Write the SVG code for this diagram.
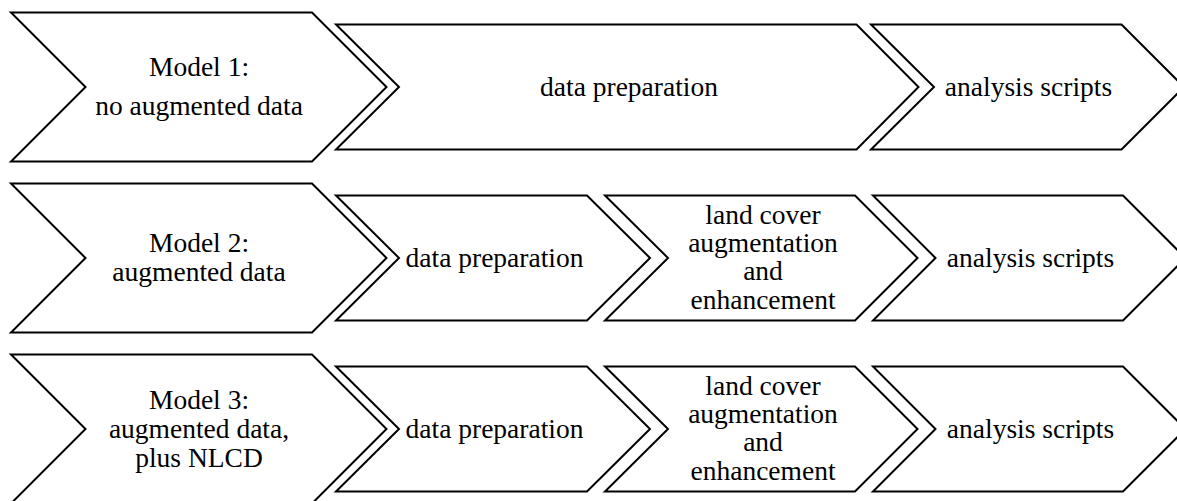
<svg xmlns="http://www.w3.org/2000/svg" width="1177" height="501" viewBox="0 0 1177 501">
<style>
.ch{fill:#fff;stroke:#000;stroke-width:2;stroke-linejoin:miter}
.t{font-family:"Liberation Serif","Times New Roman",serif;font-size:27.5px;fill:#000;text-anchor:middle}
</style>
<rect width="1177" height="501" fill="#fff"/>
<g id="connectors"/>
<!-- Row 1 -->
<g id="model1">
<polygon class="ch" points="11,12.5 312,12.5 386.5,87 312,161.5 11,161.5 85.5,87"/>
<text class="t" x="199" y="76">Model 1:</text>
<text class="t" x="199" y="115">no augmented data</text>
</g>
<g id="r1-dataprep">
<polygon class="ch" points="336,24.5 856.5,24.5 918.5,87 856.5,149.5 336,149.5 399,87"/>
<text class="t" x="629" y="96">data preparation</text>
</g>
<g id="r1-analysis">
<polygon class="ch" points="871,24.5 1121.5,24.5 1184,87 1121.5,149.5 871,149.5 934,87"/>
<text class="t" x="1028.5" y="96">analysis scripts</text>
</g>
<!-- Row 2 -->
<g id="model2">
<polygon class="ch" points="11,183.5 312,183.5 386.5,258 312,332.5 11,332.5 85.5,258"/>
<text class="t" x="199" y="252">Model 2:</text>
<text class="t" x="199" y="281">augmented data</text>
</g>
<g id="r2-dataprep">
<polygon class="ch" points="336,195.5 587,195.5 650,258 587,320.5 336,320.5 399,258"/>
<text class="t" x="494.5" y="267">data preparation</text>
</g>
<g id="r2-landcover">
<polygon class="ch" points="605,195.5 855,195.5 917.5,258 855,320.5 605,320.5 668,258"/>
<text class="t" x="763" y="223.5">land cover</text>
<text class="t" x="763" y="251.5">augmentation</text>
<text class="t" x="763" y="280">and</text>
<text class="t" x="763" y="308.5">enhancement</text>
</g>
<g id="r2-analysis">
<polygon class="ch" points="873,195.5 1123,195.5 1185.5,258 1123,320.5 873,320.5 935.5,258"/>
<text class="t" x="1030.5" y="267">analysis scripts</text>
</g>
<!-- Row 3 -->
<g id="model3">
<polygon class="ch" points="11,354.5 312,354.5 386.5,429 312,503.5 11,503.5 85.5,429"/>
<text class="t" x="199" y="409">Model 3:</text>
<text class="t" x="199" y="438">augmented data,</text>
<text class="t" x="199" y="466.5">plus NLCD</text>
</g>
<g id="r3-dataprep">
<polygon class="ch" points="336,366.5 587,366.5 650,429 587,491.5 336,491.5 399,429"/>
<text class="t" x="494.5" y="438">data preparation</text>
</g>
<g id="r3-landcover">
<polygon class="ch" points="605,366.5 855,366.5 917.5,429 855,491.5 605,491.5 668,429"/>
<text class="t" x="763" y="394.5">land cover</text>
<text class="t" x="763" y="422.5">augmentation</text>
<text class="t" x="763" y="451">and</text>
<text class="t" x="763" y="479.5">enhancement</text>
</g>
<g id="r3-analysis">
<polygon class="ch" points="873,366.5 1123,366.5 1185.5,429 1123,491.5 873,491.5 935.5,429"/>
<text class="t" x="1030.5" y="438">analysis scripts</text>
</g>
</svg>
